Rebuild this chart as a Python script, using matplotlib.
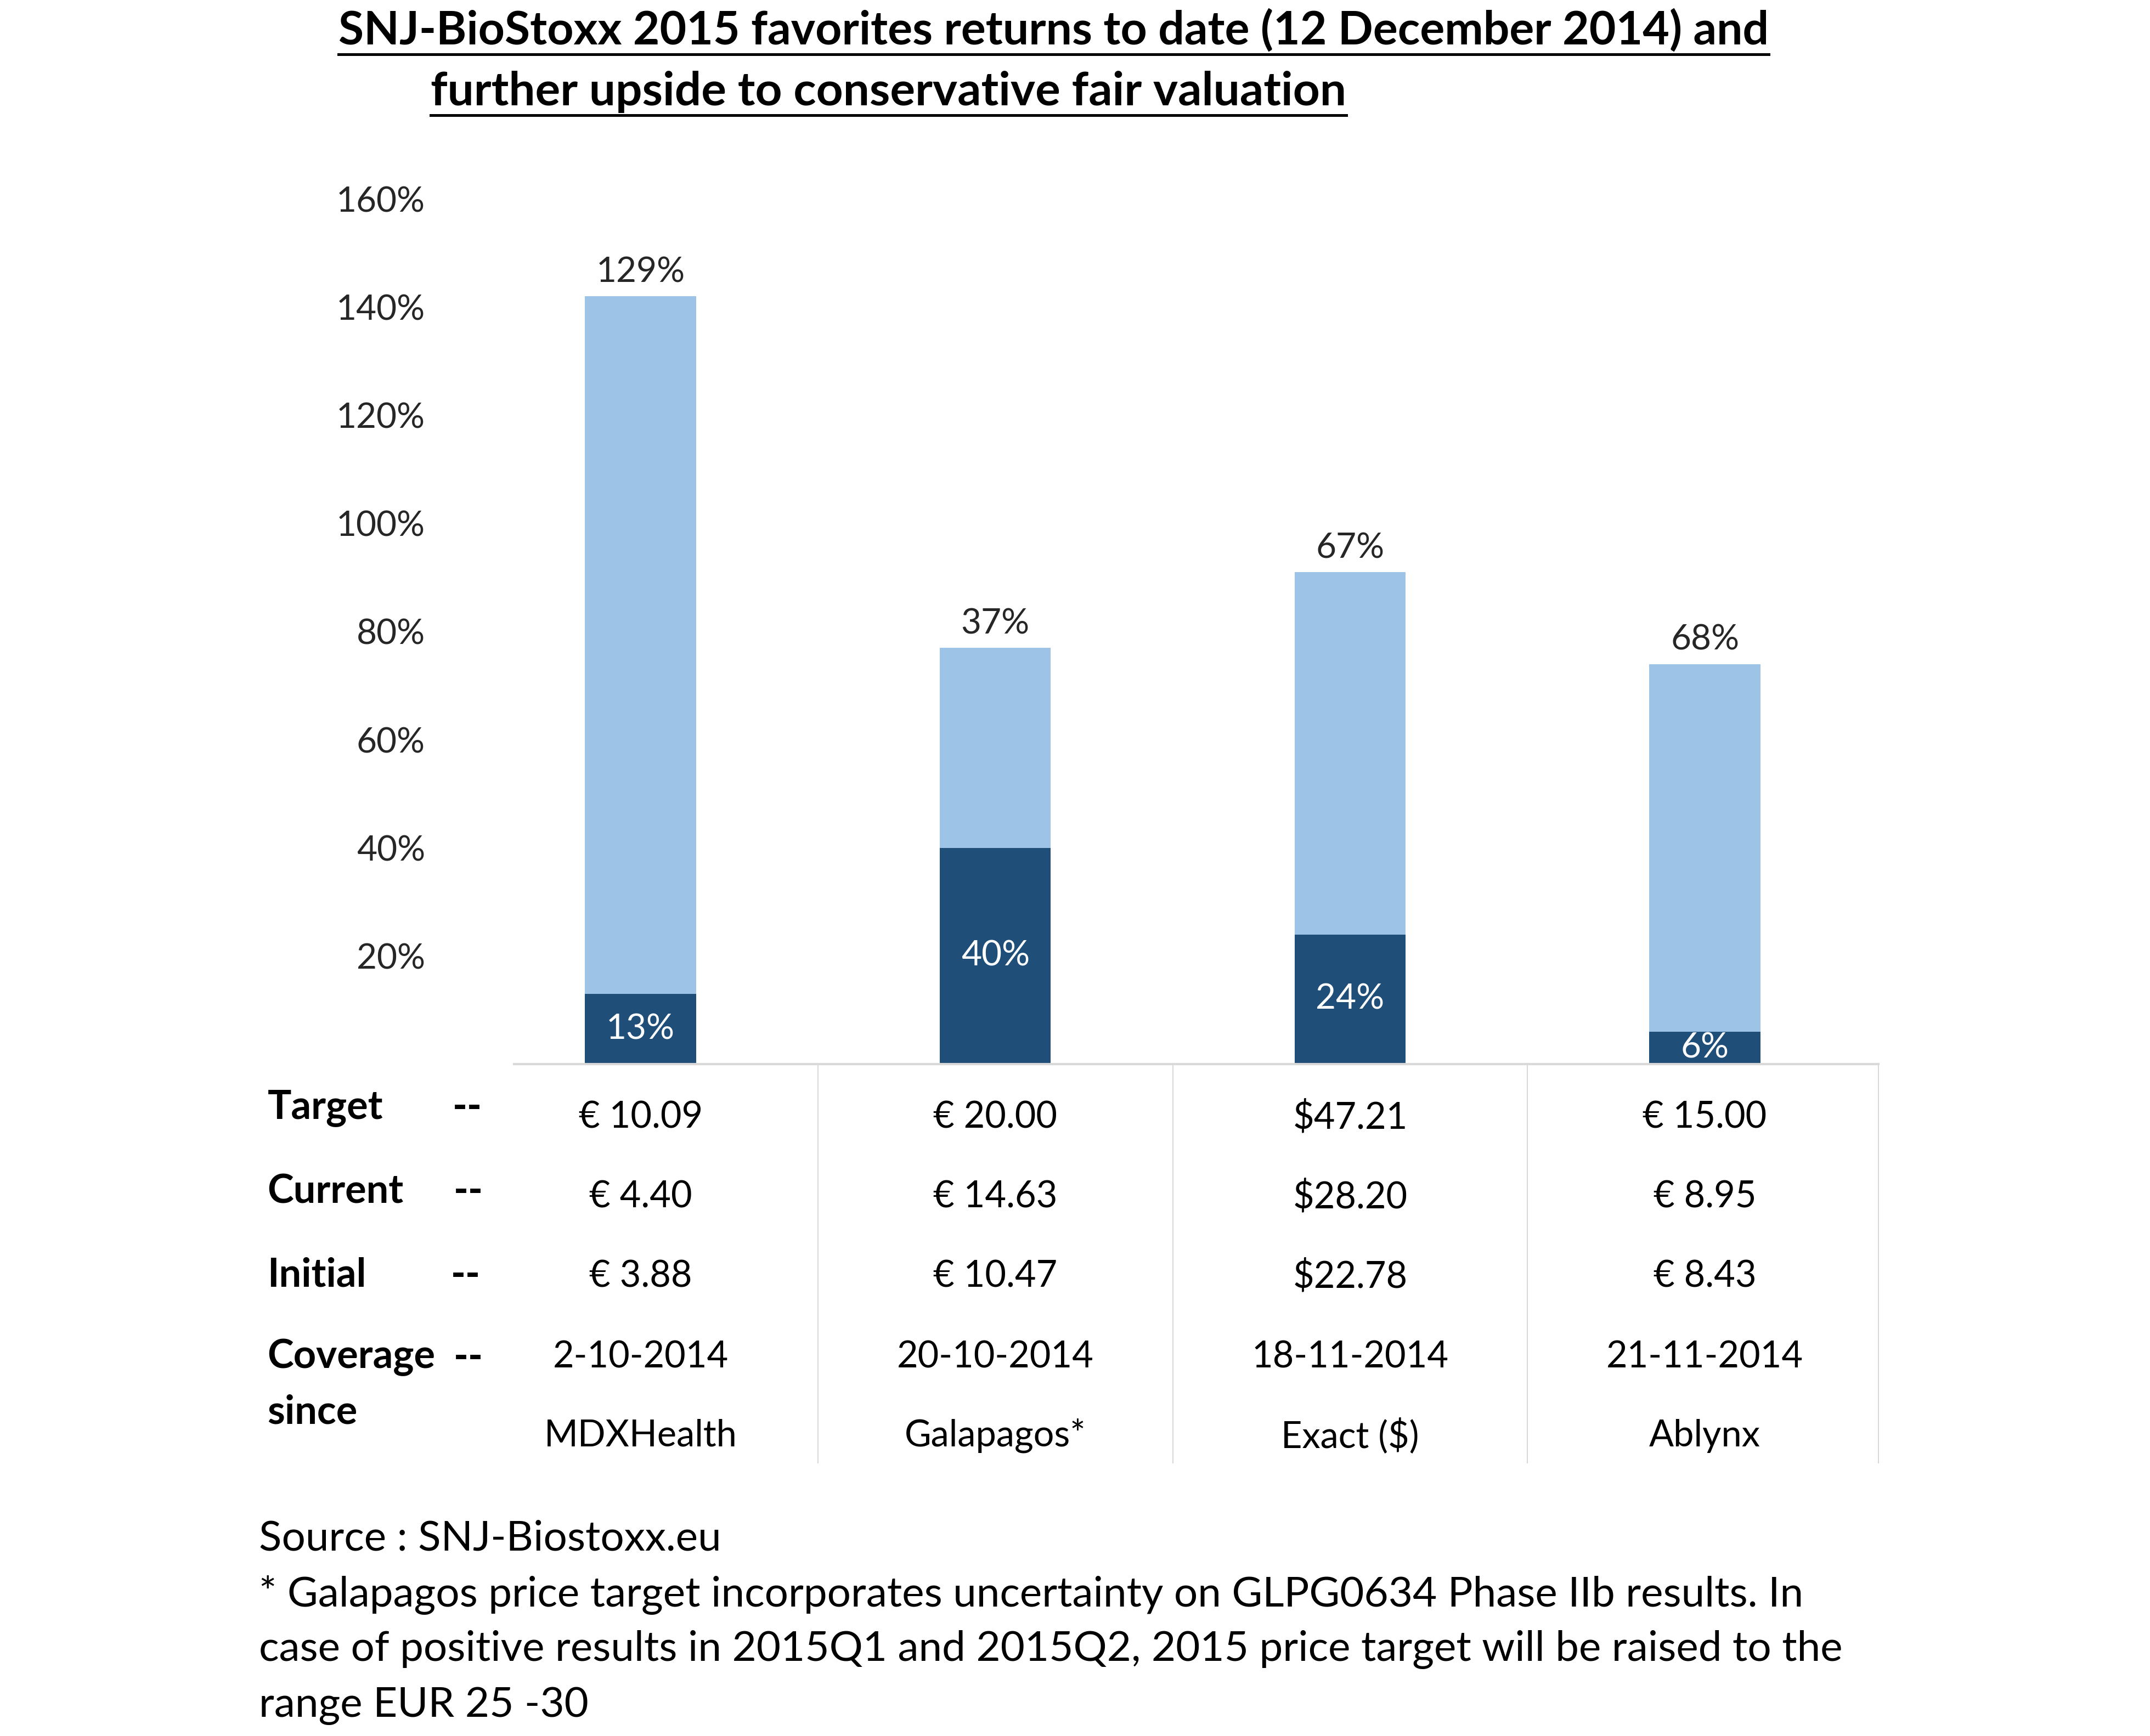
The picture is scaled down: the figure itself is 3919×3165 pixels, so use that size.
import matplotlib
matplotlib.use("Agg")
import matplotlib.pyplot as plt
from matplotlib.lines import Line2D

plt.rcParams['font.family'] = ['Lato', 'DejaVu Sans']

companies = ["MDXHealth", "Galapagos*", "Exact ($)", "Ablynx"]
returns_to_date = [13, 40, 24, 6]
further_upside = [129, 37, 67, 68]
target = ["€ 10.09", "€ 20.00", "$47.21", "€ 15.00"]
current = ["€ 4.40", "€ 14.63", "$28.20", "€ 8.95"]
initial = ["€ 3.88", "€ 10.47", "$22.78", "€ 8.43"]
coverage = ["2-10-2014", "20-10-2014", "18-11-2014", "21-11-2014"]

dark = "#1F4E79"
light = "#9DC3E6"

W, H = 3919, 3165
fig = plt.figure(figsize=(W / 100, H / 100), dpi=100)
ax = fig.add_axes([0.2392, 0.3870, 0.6346, 0.4984])

x = list(range(len(companies)))
bw = 0.313
ax.bar(x, returns_to_date, bw, color=dark)
ax.bar(x, further_upside, bw, bottom=returns_to_date, color=light)

for i in x:
    ax.text(i, returns_to_date[i] / 2, f"{returns_to_date[i]}%", ha="center", va="center",
            color="white", fontsize=46)
    top = returns_to_date[i] + further_upside[i]
    ax.text(i, top + 1.5, f"{further_upside[i]}%", ha="center", va="bottom",
            color="#262626", fontsize=46)

ax.set_xlim(-0.356, 3.49)
ax.set_ylim(0, 160)
ax.set_yticks([20, 40, 60, 80, 100, 120, 140, 160])
ax.set_yticklabels([f"{v}%" for v in [20, 40, 60, 80, 100, 120, 140, 160]])
ax.tick_params(axis="y", length=0, pad=117, labelsize=46, labelcolor="#262626")
ax.set_xticks([])
for s in ["top", "right", "left"]:
    ax.spines[s].set_visible(False)
ax.spines["bottom"].set_color("#D9D9D9")
ax.spines["bottom"].set_linewidth(3)

# table below the bars
xt = ax.get_xaxis_transform()
rows_y = [-0.0618, -0.1537, -0.2456, -0.339, -0.4295]
for i in x:
    for vals, yy in zip([target, current, initial, coverage, companies], rows_y):
        ax.text(i, yy, vals[i], transform=xt, ha="center", va="center",
                fontsize=48, color="black", clip_on=False)
for bx in [0.5, 1.5, 2.5, 3.49]:
    ax.add_line(Line2D([bx, bx], [0, -0.461], transform=xt, color="#D9D9D9",
                       lw=1.5, clip_on=False))

# row labels
labels = [("Target", 808, 330), ("Current", 869, 331), ("Initial", 930, 329),
          ("Coverage", 990, 331)]
for lab, yd, dx in labels:
    fig.text(195 / 1568, 1 - yd / 1266, lab, ha="left", va="center",
             fontsize=52, fontweight="bold")
    fig.text(dx / 1568, 1 - yd / 1266, "--", ha="left", va="center",
             fontsize=52, fontweight="bold")
fig.text(195 / 1568, 1 - 1030 / 1266, "since", ha="left", va="center",
         fontsize=52, fontweight="bold")

# title with underline
t1 = fig.text(247 / 1568, 1 - 22 / 1266,
              "SNJ-BioStoxx 2015 favorites returns to date (12 December 2014) and",
              ha="left", va="center", fontsize=60.5, fontweight="bold")
t2 = fig.text(314 / 1568, 1 - 67 / 1266, "further upside to conservative fair valuation",
              ha="left", va="center", fontsize=61.5, fontweight="bold")
fig.canvas.draw()
r = fig.canvas.get_renderer()
for t, yd in [(t1, 39.5), (t2, 84)]:
    bb = t.get_window_extent(r)
    fig.add_artist(Line2D([bb.x0 / W, bb.x1 / W], [1 - yd / 1266] * 2,
                          transform=fig.transFigure, color="black", lw=3.6))

# footnote
notes = ["Source : SNJ-Biostoxx.eu",
         "* Galapagos price target incorporates uncertainty on GLPG0634 Phase IIb results. In",
         "case of positive results in 2015Q1 and 2015Q2, 2015 price target will be raised to the",
         "range EUR 25 -30"]
for line, yd in zip(notes, [1122, 1163, 1203, 1244]):
    fig.text(189 / 1568, 1 - yd / 1266, line, ha="left", va="center", fontsize=55)

fig.savefig("out.png", dpi=100)
